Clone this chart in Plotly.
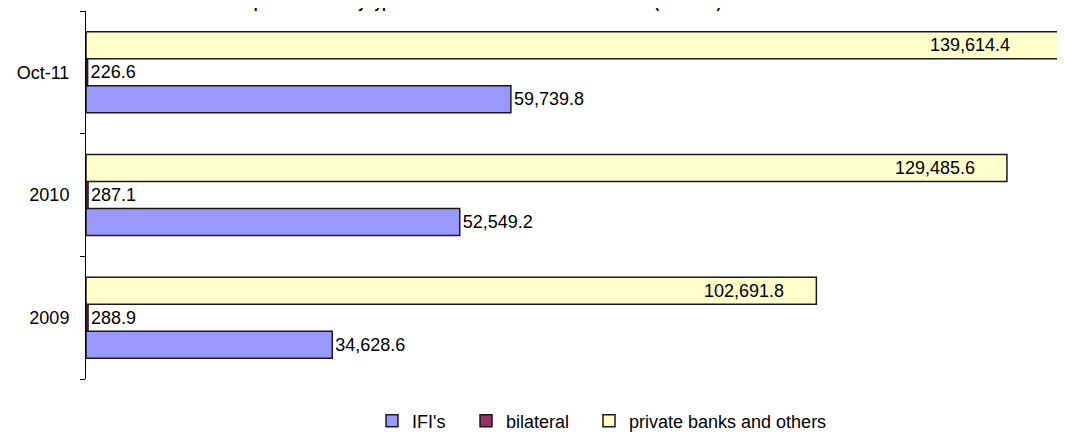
import plotly.graph_objects as go

# ---- data ----
categories = ["2009", "2010", "Oct-11"]
ifi_values = [34628.6, 52549.2, 59739.8]
bilateral_values = [288.9, 287.1, 226.6]
private_values = [102691.8, 129485.6, 139614.4]
series_names = ["IFI's", "bilateral", "private banks and others"]
title_text = "External debt of private sector by type of creditor from 2009 to October 2011 (mil. EUR)"

# ---- styling ----
PAGE = 8                       # default browser body margin around the figure
W, H = 1065 - PAGE, 433 - PAGE
ML, MR, MT, MB = 86 - PAGE, 0, 11 - PAGE, 433 - 379
X_MAX = 137650
BARGAP = 0.34
FONT = "Liberation Sans, Arial, sans-serif"
FS = 18
colors = ["#9999FF", "#993366", "#FFFFCC"]
outline = "#1a1a1a"
legend_left_px = [364, 458, 581]   # figure-pixel left edge of each legend entry


def fmt(v):
    return f"{v:,.1f}"


plot_w = W - ML - MR
plot_h = H - MT - MB

fig = go.Figure()
series = [ifi_values, bilateral_values, private_values]
legend_ids = ["legend", "legend2", "legend3"]
for i, (name, vals, col) in enumerate(zip(series_names, series, colors)):
    outside_labels = i < 2
    fig.add_trace(go.Bar(
        y=categories, x=vals, orientation="h", name=name,
        legend=legend_ids[i],
        marker=dict(color=col, line=dict(color=outline, width=1.5)),
        text=[fmt(v) for v in vals] if outside_labels else None,
        textposition="outside" if outside_labels else "none",
        constraintext="none",
        cliponaxis=False,
        textfont=dict(family=FONT, size=FS, color="#000"),
        hoverinfo="x+y+name",
    ))

# labels for the private-bank bars: inside, near the bar end
band = plot_h / len(categories)
thick = band * (1 - BARGAP) / 3
for idx, v in enumerate(private_values):
    clipped = v > X_MAX
    fig.add_annotation(
        x=min(v, X_MAX), y=idx, xref="x", yref="y",
        text=fmt(v), showarrow=False,
        xanchor="right", yanchor="middle",
        xshift=-53 if clipped else -30, yshift=thick,
        font=dict(family=FONT, size=FS, color="#000"),
    )

# title (mostly cut off at the top of the picture)
fig.add_annotation(
    x=(134 - ML) / plot_w, y=1, xref="paper", yref="paper",
    text="<b>" + title_text + "</b>", showarrow=False,
    xanchor="left", yanchor="bottom", yshift=-2,
    font=dict(family=FONT, size=14, color="#000"),
)

legend_y = -(413 - (H - MB)) / plot_h
legend_common = dict(
    orientation="h", xanchor="left", y=legend_y, yanchor="middle",
    font=dict(family=FONT, size=FS, color="#000"),
    bgcolor="rgba(0,0,0,0)", borderwidth=0,
)

fig.update_layout(
    width=W, height=H,
    margin=dict(l=ML, r=MR, t=MT, b=MB, pad=0, autoexpand=False),
    paper_bgcolor="white", plot_bgcolor="white",
    barmode="group", bargap=BARGAP, bargroupgap=0,
    font=dict(family=FONT, size=FS, color="#000"),
    showlegend=True,
    legend=dict(x=(legend_left_px[0] - ML) / plot_w, **legend_common),
    legend2=dict(x=(legend_left_px[1] - ML) / plot_w, **legend_common),
    legend3=dict(x=(legend_left_px[2] - ML) / plot_w, **legend_common),
    xaxis=dict(visible=False, range=[0, X_MAX], fixedrange=True, automargin=False),
    yaxis=dict(
        type="category", categoryorder="array", categoryarray=categories,
        range=[-0.5, len(categories) - 0.5], automargin=False,
        showline=True, linecolor="#000", linewidth=1,
        ticks="outside", ticklen=5, tickcolor="#000", tickwidth=1,
        tickson="boundaries", showgrid=False, zeroline=False,
        ticklabelstandoff=12,
        tickfont=dict(family=FONT, size=FS, color="#000"),
    ),
)

fig.write_html("out.html")
